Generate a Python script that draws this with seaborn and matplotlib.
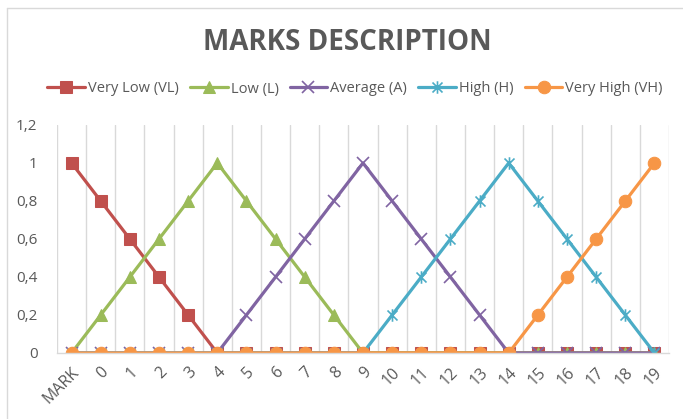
import matplotlib
matplotlib.use("Agg")
import matplotlib.pyplot as plt
import seaborn as sns
import numpy as np
import pandas as pd
from matplotlib.path import Path
from matplotlib.ticker import FixedLocator, FuncFormatter

categories = ["MARK"] + [str(i) for i in range(20)]
very_low = [1, 0.8, 0.6, 0.4, 0.2, 0, 0, 0, 0, 0, 0, 0, 0, 0, 0, 0, 0, 0, 0, 0, 0]
low = [0, 0.2, 0.4, 0.6, 0.8, 1, 0.8, 0.6, 0.4, 0.2, 0, 0, 0, 0, 0, 0, 0, 0, 0, 0, 0]
average = [0, 0, 0, 0, 0, 0, 0.2, 0.4, 0.6, 0.8, 1, 0.8, 0.6, 0.4, 0.2, 0, 0, 0, 0, 0, 0]
high = [0, 0, 0, 0, 0, 0, 0, 0, 0, 0, 0, 0.2, 0.4, 0.6, 0.8, 1, 0.8, 0.6, 0.4, 0.2, 0]
very_high = [0, 0, 0, 0, 0, 0, 0, 0, 0, 0, 0, 0, 0, 0, 0, 0, 0.2, 0.4, 0.6, 0.8, 1]
series_names = ["Very Low (VL)", "Low (L)", "Average (A)", "High (H)", "Very High (VH)"]
y_ticks = [0, 0.2, 0.4, 0.6, 0.8, 1, 1.2]

sns.set_theme(style="white")
plt.rcParams['font.family'] = ['Open Sans', 'DejaVu Sans']

grey = "#595959"
colors = ["#C0504D", "#9BBB59", "#8064A2", "#4BACC6", "#F79646"]

star = Path([(0, -1), (0, 1), (-0.8, -0.8), (0.8, 0.8), (-0.8, 0.8), (0.8, -0.8)],
            [Path.MOVETO, Path.LINETO, Path.MOVETO, Path.LINETO, Path.MOVETO, Path.LINETO])
marker_specs = [
    dict(marker="s", markersize=8.5),
    dict(marker="^", markersize=9),
    dict(marker="x", markersize=9, markeredgewidth=1.2),
    dict(marker=star, markersize=9, markeredgewidth=1.2),
    dict(marker="o", markersize=9),
]

fig = plt.figure(figsize=(6.83, 4.19), dpi=100)
ax = fig.add_axes([57/683, 1 - 353/419, (669-57)/683, (353-125)/419])

x = np.arange(len(categories))
all_series = [very_low, low, average, high, very_high]
for name, vals, col, ms in zip(series_names, all_series, colors, marker_specs):
    df = pd.DataFrame({"x": x, "y": vals})
    sns.lineplot(data=df, x="x", y="y", ax=ax, color=col, linewidth=2.3,
                 markeredgecolor=col, markerfacecolor=col, label=name, **ms)

ax.set_xlim(-0.5, len(categories) - 0.5)
ax.set_ylim(0, 1.2)
ax.set_xticks(x)
ax.set_xticklabels(categories, rotation=45, ha="right", va="top", rotation_mode="anchor",
                   fontsize=11.5, color=grey)
ax.xaxis.set_minor_locator(FixedLocator(np.arange(-0.5, len(categories), 1)))
ax.grid(True, which="minor", axis="x", color="#D9D9D9", linewidth=1)
ax.grid(False, which="major")
ax.set_yticks(y_ticks)
ax.yaxis.set_major_formatter(FuncFormatter(lambda v, p: ("%g" % v).replace(".", ",")))
ax.tick_params(axis="y", labelsize=11, labelcolor=grey, length=0, pad=14)
ax.tick_params(axis="x", length=0, pad=8)
ax.set_xlabel("")
ax.set_ylabel("")
for s in ["top", "right", "left"]:
    ax.spines[s].set_visible(False)
ax.spines["bottom"].set_color("#D9D9D9")
ax.spines["bottom"].set_linewidth(1)

leg = ax.legend(loc="center", bbox_to_anchor=(355/683, 1 - 89/419), bbox_transform=fig.transFigure,
                ncol=5, frameon=False, fontsize=10.5, handlelength=2.6, columnspacing=0.75,
                handletextpad=0.2, borderaxespad=0)
for t in leg.get_texts():
    t.set_color(grey)

fig.text(347/683, 1 - 42/419, "MARKS DESCRIPTION", ha="center", va="center",
         fontsize=20, fontweight="bold", color=grey)

fig.add_artist(plt.Line2D([7/683, 7/683], [0, 1 - 8/419], transform=fig.transFigure, color="#D9D9D9", lw=1))
fig.add_artist(plt.Line2D([7/683, 1], [1 - 8/419, 1 - 8/419], transform=fig.transFigure, color="#D9D9D9", lw=1))

fig.savefig("out.png", dpi=100)
